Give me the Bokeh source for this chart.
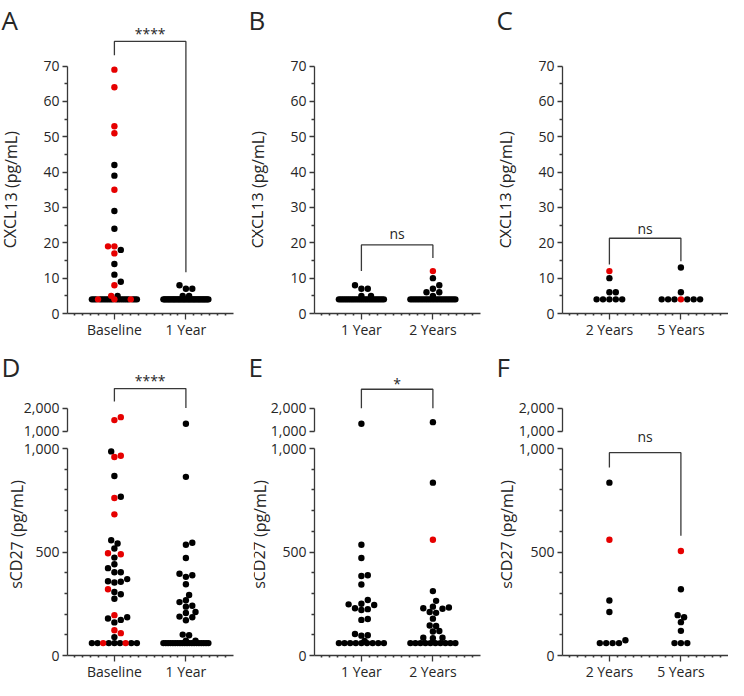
from bokeh.plotting import figure
from bokeh.models import Range1d, FixedTicker, NumeralTickFormatter, LinearAxis
from bokeh.layouts import row, column
from bokeh.embed import file_html
from bokeh.resources import INLINE
from bokeh.core.properties import value

# ---------------- data ----------------
cxcl13_ticks = [0, 10, 20, 30, 40, 50, 60, 70]
cxcl13_minor = [5, 15, 25, 35, 45, 55, 65]
scd27_ticks_low = [0, 500, 1000]
scd27_minor_low = [100, 200, 300, 400, 600, 700, 800, 900]
scd27_ticks_high = [1000, 2000]

# A: CXCL13, Baseline vs 1 Year
A_groups = ["Baseline", "1 Year"]
A_baseline_red = [69, 64, 53, 51, 35, 19, 19, 17, 8, 5, 4, 4, 4]
A_baseline_black = [42, 39, 29, 24, 18, 14, 11, 9, 5,
                    4, 4, 4, 4, 4, 4, 4, 4, 4, 4,
                    4, 4, 4, 4, 4, 4, 4, 4, 4, 4]
A_1year_red = []
A_1year_black = [8, 7, 7, 5, 5,
                 4, 4, 4, 4, 4, 4, 4, 4, 4, 4,
                 4, 4, 4, 4, 4, 4, 4, 4, 4, 4,
                 4, 4, 4, 4, 4, 4, 4, 4, 4, 4,
                 4, 4, 4, 4, 4, 4, 4]
A_sig = ["****", 77.0, 73.1, 11.7]

# B: CXCL13, 1 Year vs 2 Years
B_groups = ["1 Year", "2 Years"]
B_1year_red = []
B_1year_black = [8, 7, 7, 5, 5,
                 4, 4, 4, 4, 4, 4, 4, 4, 4, 4,
                 4, 4, 4, 4, 4, 4, 4, 4, 4, 4,
                 4, 4, 4, 4]
B_2years_red = [12]
B_2years_black = [10, 8, 7, 6, 6, 5,
                  4, 4, 4, 4, 4, 4, 4, 4, 4, 4,
                  4, 4, 4, 4, 4, 4, 4, 4, 4, 4,
                  4, 4]
B_sig = ["ns", 19.4, 12.0, 15.7]

# C: CXCL13, 2 Years vs 5 Years
C_groups = ["2 Years", "5 Years"]
C_2years_red = [12]
C_2years_black = [10, 6, 6, 4, 4, 4, 4, 4]
C_5years_red = [4]
C_5years_black = [13, 6, 4, 4, 4, 4, 4, 4]
C_sig = ["ns", 21.3, 13.9, 14.8]

# D: sCD27, Baseline vs 1 Year
D_groups = ["Baseline", "1 Year"]
D_baseline_red = [1610, 1480, 965, 959, 761, 682, 494, 489, 320, 195, 122, 108, 60, 60]
D_baseline_black = [986, 867, 767, 557, 541, 517, 473, 441, 422, 402, 402, 369, 359,
                    356, 353, 307, 296, 274, 185, 179, 172, 160, 89,
                    60, 60, 60, 60, 60, 60, 60]
D_1year_red = []
D_1year_black = [1317, 863, 545, 535, 471, 395, 388, 380, 344, 292, 267, 258, 240,
                 236, 210, 205, 188, 185, 170, 101, 98, 72, 72,
                 60, 60, 60, 60, 60, 60, 60, 60, 60, 60,
                 60, 60, 60, 60, 60, 60, 60, 60, 60, 60]
D_sig = ["****", 2870, 2304, 2013]

# E: sCD27, 1 Year vs 2 Years
E_groups = ["1 Year", "2 Years"]
E_1year_red = []
E_1year_black = [1320, 535, 471, 388, 384, 343, 268, 250, 247, 244, 228, 224, 220,
                 176, 172, 104, 98, 96, 70,
                 60, 60, 60, 60, 60, 60, 60, 60, 60]
E_2years_red = [559]
E_2years_black = [1390, 835, 311, 264, 236, 232, 228, 226, 210, 206, 178, 145, 143,
                  118, 116, 86, 86, 84,
                  60, 60, 60, 60, 60, 60, 60, 60, 60, 60]
E_sig = ["*", 2839, 2000, 2000]

# F: sCD27, 2 Years vs 5 Years
F_groups = ["2 Years", "5 Years"]
F_2years_red = [559]
F_2years_black = [835, 266, 210, 74, 60, 60, 60, 60]
F_5years_red = [505]
F_5years_black = [320, 195, 185, 161, 119, 60, 60, 60]
F_sig = ["ns", 980, 908, 578]

# ---------------- layout / style constants ----------------
FONT = "Open Sans"
AX = "#383838"
TXT = "#262626"
RED = "#e60000"
BLK = "#000000"
DOT = 6.4
MAXW = 22.5
PX_X = 71.5           # px per category step
LEFT = 67             # y axis position inside each figure (px)
CAT1 = 46.9           # px from y axis to first category
AXIS_W = 166          # length of x axis (px)
WIDTHS = [247, 248, 233]
X0 = 1 - CAT1 / PX_X  # data x of the y axis
XB = X0 + AXIS_W / PX_X

H1, Y0_1, PPY1 = 338, 313, 3.534           # top row: height, px of y=0, px per unit
H2, Y0_2, PPYB = 342, 317, 0.207           # bottom row, lower segment
Y1000_TOP, PPYT = 92.5, 0.0227             # bottom row, upper segment (px of 1000 from top)


def swarm(vals, cols, ppy):
    n = len(vals)
    offs = [0.0] * n
    placed = []
    if n == 0:
        return offs
    lo = min(vals)
    floor = [i for i in range(n) if vals[i] == lo]
    done = set()
    if len(floor) >= 4:
        nb = sum(1 for i in floor if cols[i] == BLK)
        nr = len(floor) - nb
        cb = cr = 0
        keyed = []
        for i in floor:
            if cols[i] == BLK:
                keyed.append(((cb + 0.5) / nb, 0, i))
                cb += 1
            else:
                keyed.append(((cr + 0.5) / nr, 1, i))
                cr += 1
        keyed.sort()
        m = len(keyed)
        step = min(DOT, 2 * MAXW / (m - 1))
        for k, (_, _, i) in enumerate(keyed):
            x = (k - (m - 1) / 2) * step
            offs[i] = x / PX_X
            placed.append((x, vals[i] * ppy))
            done.add(i)
    rest = sorted([i for i in range(n) if i not in done], key=lambda i: vals[i])
    s = DOT / 2
    cands = [0.0]
    k = 1
    while k * s <= MAXW + 1e-9:
        cands += [k * s, -k * s]
        k += 1
    thr = (0.92 * DOT) ** 2
    for i in rest:
        y = vals[i] * ppy
        best = None
        for c in cands:
            if all((c - px) ** 2 + (y - py) ** 2 >= thr for px, py in placed):
                best = c
                break
        if best is None:
            best = max(cands, key=lambda c: min((c - px) ** 2 + (y - py) ** 2 for px, py in placed))
        offs[i] = best / PX_X
        placed.append((best, y))
    return offs


def plot_group(p, xc, vals, cols, ppy, rng="default"):
    offs = swarm(vals, cols, ppy)
    for colr in (BLK, RED):
        xs = [xc + offs[i] for i in range(len(vals)) if cols[i] == colr]
        ys = [vals[i] for i in range(len(vals)) if cols[i] == colr]
        if xs:
            p.scatter(x=xs, y=ys, size=DOT, marker="circle", fill_color=colr,
                      line_color=None, y_range_name=rng)


def new_fig(col, height, yr):
    W = WIDTHS[col]
    xs = X0 - LEFT / PX_X
    p = figure(width=W, height=height, x_range=Range1d(xs, xs + W / PX_X), y_range=yr,
               output_backend="svg", toolbar_location=None, title=None,
               min_border_left=0, min_border_right=0, min_border_top=0, min_border_bottom=0)
    p.grid.visible = False
    p.outline_line_color = None
    p.border_fill_color = "white"
    p.background_fill_color = "white"
    return p


def common(ax):
    ax.axis_line_color = AX
    ax.axis_line_width = 1.3
    ax.major_tick_line_color = AX
    ax.major_tick_line_width = 1.3
    ax.minor_tick_line_color = AX
    ax.minor_tick_line_width = 1.3
    ax.major_label_text_font = FONT
    ax.major_label_text_font_size = "14px"
    ax.major_label_text_color = TXT


def style_y(ax, ticks, minor, bounds, comma=False):
    ax.fixed_location = X0
    ax.ticker = FixedTicker(ticks=ticks, minor_ticks=minor)
    ax.bounds = bounds
    if comma:
        ax.formatter = NumeralTickFormatter(format="0,0")
    common(ax)
    ax.major_tick_out = 5
    ax.major_tick_in = 0
    ax.minor_tick_out = 3
    ax.minor_tick_in = 0
    ax.major_label_standoff = 3


def style_x(ax, labels):
    ax.fixed_location = 0
    minor = [1 + k / 9 for k in range(-8, 17) if k % 9 and X0 < 1 + k / 9 < XB]
    ax.ticker = FixedTicker(ticks=[1, 2], minor_ticks=minor)
    ax.bounds = (X0, XB)
    ax.major_label_overrides = {1: labels[0], 2: labels[1]}
    common(ax)
    ax.major_tick_out = 6
    ax.major_tick_in = 0
    ax.minor_tick_out = 2
    ax.minor_tick_in = 0
    ax.minor_tick_line_width = 1.6
    ax.major_label_standoff = 0


def bracket(p, sig, dy, rng="default"):
    label, top, left_end, right_end = sig
    p.line(x=[1, 1, 2, 2], y=[left_end, top, top, right_end], line_color=AX,
           line_width=1.3, y_range_name=rng)
    p.text(x=[1.5], y=[top], text=[label], text_font=value(FONT), text_font_size=value("14px"),
           text_align="center", text_baseline="alphabetic", y_offset=dy, text_color=TXT,
           y_range_name=rng)


def letter_and_title(p, letter, y_letter, title, y_title, title_off):
    p.text(x=[X0], y=[y_letter], text=[letter], x_offset=-66, text_font=value(FONT),
           text_font_size=value("26px"), text_align="left", text_baseline="alphabetic",
           text_color=TXT)
    p.text(x=[X0], y=[y_title], text=[title], x_offset=title_off, angle=1.5707963,
           text_font=value(FONT), text_font_size=value("16px"), text_align="center",
           text_baseline="middle", text_color=TXT)


def merge(black, red):
    return black + red, [BLK] * len(black) + [RED] * len(red)


def simple_panel(col, letter, title, groups, data, sig, dy):
    yr = Range1d(-(H1 - Y0_1) / PPY1, Y0_1 / PPY1)
    p = new_fig(col, H1, yr)
    style_y(p.yaxis[0], cxcl13_ticks, cxcl13_minor, (0, 70))
    style_x(p.xaxis[0], groups)
    for gi, (blk, red) in enumerate(data):
        vals, cols = merge(blk, red)
        plot_group(p, gi + 1, vals, cols, PPY1)
    bracket(p, sig, dy)
    letter_and_title(p, letter, (Y0_1 - 19.7) / PPY1, title, (Y0_1 - 189.2) / PPY1, -57)
    return p


def broken_panel(col, letter, title, groups, data, sig, dy, sig_in_top, title_off):
    yr = Range1d(-(H2 - Y0_2) / PPYB, Y0_2 / PPYB)
    p = new_fig(col, H2, yr)
    p.extra_y_ranges = {"top": Range1d(1000 - (H2 - Y1000_TOP) / PPYT, 1000 + Y1000_TOP / PPYT)}
    style_y(p.yaxis[0], scd27_ticks_low, scd27_minor_low, (0, 1000), comma=True)
    ax_top = LinearAxis(y_range_name="top")
    p.add_layout(ax_top, "left")
    style_y(ax_top, scd27_ticks_high, [], (1000, 2000), comma=True)
    style_x(p.xaxis[0], groups)
    for gi, (blk, red) in enumerate(data):
        vals, cols = merge(blk, red)
        lo = [(v, c) for v, c in zip(vals, cols) if v <= 1000]
        hi = [(v, c) for v, c in zip(vals, cols) if v > 1000]
        plot_group(p, gi + 1, [v for v, _ in lo], [c for _, c in lo], PPYB)
        plot_group(p, gi + 1, [v for v, _ in hi], [c for _, c in hi], PPYT, "top")
    bracket(p, sig, dy, "top" if sig_in_top else "default")
    letter_and_title(p, letter, (Y0_2 - 28.6) / PPYB, title, (Y0_2 - 196) / PPYB, title_off)
    return p


pA = simple_panel(0, "A", "CXCL13 (pg/mL)", A_groups,
                  [(A_baseline_black, A_baseline_red), (A_1year_black, A_1year_red)], A_sig, -8)
pB = simple_panel(1, "B", "CXCL13 (pg/mL)", B_groups,
                  [(B_1year_black, B_1year_red), (B_2years_black, B_2years_red)], B_sig, -11)
pC = simple_panel(2, "C", "CXCL13 (pg/mL)", C_groups,
                  [(C_2years_black, C_2years_red), (C_5years_black, C_5years_red)], C_sig, -9.5)
pD = broken_panel(0, "D", "sCD27 (pg/mL)", D_groups,
                  [(D_baseline_black, D_baseline_red), (D_1year_black, D_1year_red)], D_sig, -8,
                  True, -51)
pE = broken_panel(1, "E", "sCD27 (pg/mL)", E_groups,
                  [(E_1year_black, E_1year_red), (E_2years_black, E_2years_red)], E_sig, -6,
                  True, -55)
pF = broken_panel(2, "F", "sCD27 (pg/mL)", F_groups,
                  [(F_2years_black, F_2years_red), (F_5years_black, F_5years_red)], F_sig, -16,
                  False, -56)

layout = column(row(pA, pB, pC), row(pD, pE, pF))
open("out.html", "w").write(file_html(layout, INLINE))
